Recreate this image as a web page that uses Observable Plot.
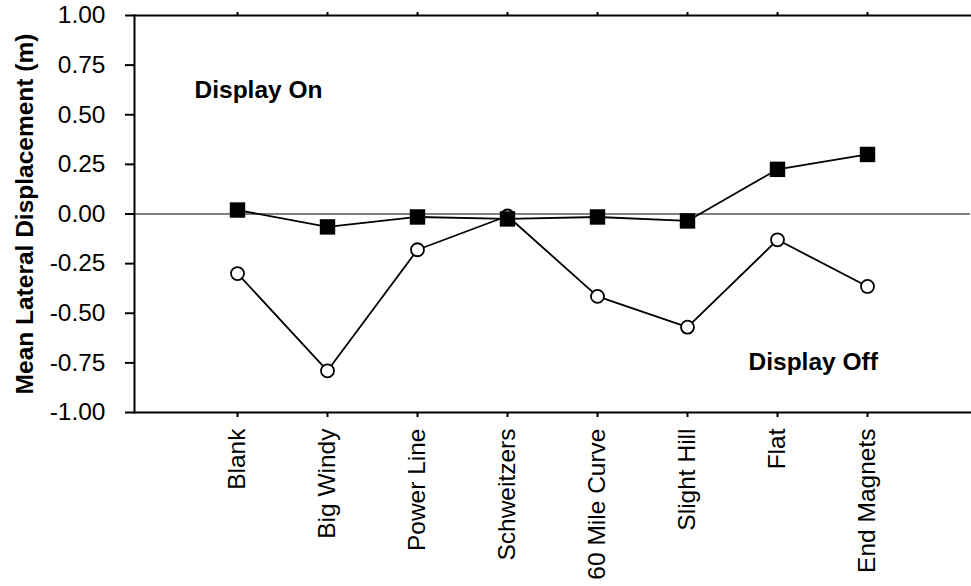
<!DOCTYPE html>
<html>
<head>
<meta charset="utf-8">
<script src="https://cdn.jsdelivr.net/npm/d3@7"></script>
<script src="https://cdn.jsdelivr.net/npm/@observablehq/plot@0.6"></script>
<style>
  html, body { margin: 0; padding: 0; background: white; }
</style>
</head>
<body>
<div id="chart"></div>
<script>
const categories = ["Blank", "Big Windy", "Power Line", "Schweitzers", "60 Mile Curve", "Slight Hill", "Flat", "End Magnets"];
const displayOn  = [0.02, -0.065, -0.015, -0.025, -0.015, -0.035, 0.225, 0.30];
const displayOff = [-0.30, -0.79, -0.18, -0.01, -0.415, -0.57, -0.13, -0.365];
const yTicks = [-1, -0.75, -0.5, -0.25, 0, 0.25, 0.5, 0.75, 1];

const onRows = categories.map((c, i) => ({cat: c, v: displayOn[i]}));
const offRows = categories.map((c, i) => ({cat: c, v: displayOff[i]}));

const font = "'Liberation Sans', Arial, Helvetica, sans-serif";

const chart = Plot.plot({
  width: 971,
  height: 586,
  marginLeft: 134,
  marginRight: 1,
  marginTop: 15,
  marginBottom: 174,
  style: {fontFamily: font, fontSize: "24.5px", color: "black", background: "white"},
  x: {type: "point", domain: categories, padding: 1.11},
  y: {domain: [-1, 1]},
  marks: [
    Plot.ruleY([0], {stroke: "#808080", strokeWidth: 2}),
    Plot.frame({anchor: "left", stroke: "black", strokeWidth: 2}),
    Plot.frame({anchor: "top", stroke: "black", strokeWidth: 2}),
    Plot.frame({anchor: "bottom", stroke: "black", strokeWidth: 2}),
    Plot.axisY({ticks: yTicks, tickFormat: d => d.toFixed(2), tickSize: 9, tickPadding: 20, strokeWidth: 2, label: null}),
    Plot.axisX({anchor: "bottom", tickSize: 5, tickPadding: 11, tickRotate: -90, strokeWidth: 2, label: null}),
    Plot.axisX({anchor: "top", tickSize: 4, tickFormat: () => "", strokeWidth: 2, label: null}),
    Plot.line(offRows, {x: "cat", y: "v", stroke: "black", strokeWidth: 1.8}),
    Plot.dot(offRows, {x: "cat", y: "v", r: 6.5, fill: "white", stroke: "black", strokeWidth: 1.8}),
    Plot.line(onRows, {x: "cat", y: "v", stroke: "black", strokeWidth: 1.8}),
    Plot.dot(onRows, {x: "cat", y: "v", symbol: "square", r: 8.7, fill: "black", stroke: "none"}),
    Plot.text(["Display On"], {x: ["Blank"], y: [0.623], text: d => d, textAnchor: "start", dx: -43, fontWeight: "bold", fontSize: 24.5}),
    Plot.text(["Display Off"], {x: ["Flat"], y: [-0.747], text: d => d, textAnchor: "start", dx: -29, fontWeight: "bold", fontSize: 24.5}),
    Plot.text(["Mean Lateral Displacement (m)"], {frameAnchor: "left", rotate: -90, dx: -109, textAnchor: "middle", text: d => d, fontWeight: "bold", fontSize: 24.5})
  ]
});
document.getElementById("chart").appendChild(chart);
</script>
</body>
</html>
